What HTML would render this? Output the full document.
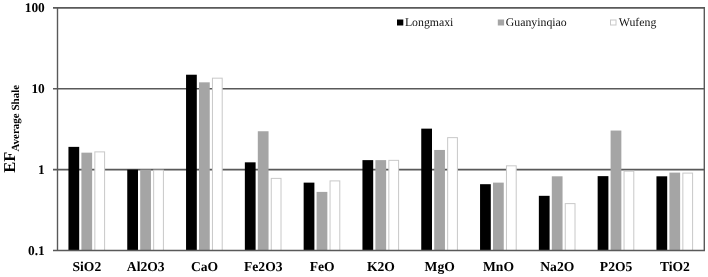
<!DOCTYPE html><html><head><meta charset="utf-8"><style>html,body{margin:0;padding:0;background:#fff;width:708px;height:277px;overflow:hidden}text{font-family:"Liberation Serif",serif}svg{display:block;text-rendering:geometricPrecision;filter:grayscale(1)}</style></head><body><svg width="708" height="277" viewBox="0 0 708 277">
<rect width="708" height="277" fill="#fff"/>
<line x1="53" y1="7.86" x2="705.00" y2="7.86" stroke="#595959" stroke-width="1.6"/>
<line x1="53" y1="88.73" x2="705.00" y2="88.73" stroke="#595959" stroke-width="1.6"/>
<line x1="53" y1="169.60" x2="705.00" y2="169.60" stroke="#595959" stroke-width="1.6"/>
<rect x="68.45" y="146.87" width="10.75" height="103.60" fill="#000"/>
<rect x="81.40" y="152.66" width="10.75" height="97.81" fill="#a5a5a5"/>
<rect x="94.85" y="151.88" width="9.75" height="98.59" fill="#fff" stroke="#c8c8c8" stroke-width="1"/>
<rect x="127.25" y="169.60" width="10.75" height="80.87" fill="#000"/>
<rect x="140.20" y="169.60" width="10.75" height="80.87" fill="#a5a5a5"/>
<rect x="153.65" y="170.10" width="9.75" height="80.37" fill="#fff" stroke="#c8c8c8" stroke-width="1"/>
<rect x="186.05" y="74.72" width="10.75" height="175.75" fill="#000"/>
<rect x="199.00" y="82.33" width="10.75" height="168.14" fill="#a5a5a5"/>
<rect x="212.45" y="78.17" width="9.75" height="172.30" fill="#fff" stroke="#c8c8c8" stroke-width="1"/>
<rect x="244.85" y="162.33" width="10.75" height="88.14" fill="#000"/>
<rect x="257.80" y="131.25" width="10.75" height="119.22" fill="#a5a5a5"/>
<rect x="271.25" y="178.38" width="9.75" height="72.09" fill="#fff" stroke="#c8c8c8" stroke-width="1"/>
<rect x="303.65" y="182.63" width="10.75" height="67.84" fill="#000"/>
<rect x="316.60" y="191.90" width="10.75" height="58.57" fill="#a5a5a5"/>
<rect x="330.05" y="180.91" width="9.75" height="69.56" fill="#fff" stroke="#c8c8c8" stroke-width="1"/>
<rect x="362.45" y="160.12" width="10.75" height="90.35" fill="#000"/>
<rect x="375.40" y="160.12" width="10.75" height="90.35" fill="#a5a5a5"/>
<rect x="388.85" y="160.35" width="9.75" height="90.12" fill="#fff" stroke="#c8c8c8" stroke-width="1"/>
<rect x="421.25" y="128.64" width="10.75" height="121.83" fill="#000"/>
<rect x="434.20" y="149.95" width="10.75" height="100.52" fill="#a5a5a5"/>
<rect x="447.65" y="137.64" width="9.75" height="112.83" fill="#fff" stroke="#c8c8c8" stroke-width="1"/>
<rect x="480.05" y="184.19" width="10.75" height="66.28" fill="#000"/>
<rect x="493.00" y="182.63" width="10.75" height="67.84" fill="#a5a5a5"/>
<rect x="506.45" y="165.81" width="9.75" height="84.66" fill="#fff" stroke="#c8c8c8" stroke-width="1"/>
<rect x="538.85" y="195.82" width="10.75" height="54.65" fill="#000"/>
<rect x="551.80" y="176.31" width="10.75" height="74.16" fill="#a5a5a5"/>
<rect x="565.25" y="203.62" width="9.75" height="46.85" fill="#fff" stroke="#c8c8c8" stroke-width="1"/>
<rect x="597.65" y="176.14" width="10.75" height="74.33" fill="#000"/>
<rect x="610.60" y="130.55" width="10.75" height="119.92" fill="#a5a5a5"/>
<rect x="624.05" y="171.17" width="9.75" height="79.30" fill="#fff" stroke="#c8c8c8" stroke-width="1"/>
<rect x="656.45" y="176.31" width="10.75" height="74.16" fill="#000"/>
<rect x="669.40" y="172.60" width="10.75" height="77.87" fill="#a5a5a5"/>
<rect x="682.85" y="173.10" width="9.75" height="77.37" fill="#fff" stroke="#c8c8c8" stroke-width="1"/>
<line x1="57.5" y1="7.86" x2="57.5" y2="250.47" stroke="#595959" stroke-width="1.4"/>
<line x1="704.3" y1="7.86" x2="704.3" y2="250.47" stroke="#595959" stroke-width="1.4"/>
<line x1="53" y1="250.47" x2="705.00" y2="250.47" stroke="#595959" stroke-width="1.4"/>
<text x="44.8" y="12.26" text-anchor="end" font-weight="bold" font-size="13.4">100</text>
<text x="44.8" y="93.13" text-anchor="end" font-weight="bold" font-size="13.4">10</text>
<text x="44.8" y="174.00" text-anchor="end" font-weight="bold" font-size="13.4">1</text>
<text x="44.8" y="254.87" text-anchor="end" font-weight="bold" font-size="13.4">0.1</text>
<text x="86.90" y="270.8" text-anchor="middle" font-weight="bold" font-size="13.6">SiO2</text>
<text x="145.70" y="270.8" text-anchor="middle" font-weight="bold" font-size="13.6">Al2O3</text>
<text x="204.50" y="270.8" text-anchor="middle" font-weight="bold" font-size="13.6">CaO</text>
<text x="263.30" y="270.8" text-anchor="middle" font-weight="bold" font-size="13.6">Fe2O3</text>
<text x="322.10" y="270.8" text-anchor="middle" font-weight="bold" font-size="13.6">FeO</text>
<text x="380.90" y="270.8" text-anchor="middle" font-weight="bold" font-size="13.6">K2O</text>
<text x="439.70" y="270.8" text-anchor="middle" font-weight="bold" font-size="13.6">MgO</text>
<text x="498.50" y="270.8" text-anchor="middle" font-weight="bold" font-size="13.6">MnO</text>
<text x="557.30" y="270.8" text-anchor="middle" font-weight="bold" font-size="13.6">Na2O</text>
<text x="616.10" y="270.8" text-anchor="middle" font-weight="bold" font-size="13.6">P2O5</text>
<text x="674.90" y="270.8" text-anchor="middle" font-weight="bold" font-size="13.6">TiO2</text>
<text transform="translate(15.2,172.8) rotate(-90)" font-weight="bold"><tspan font-size="16.6">EF</tspan><tspan font-size="11" dy="3.8">Average Shale</tspan></text>
<rect x="397" y="19.5" width="6.3" height="6" fill="#000"/>
<text x="404.90" y="25.9" font-size="11.8" fill="#111">Longmaxi</text>
<rect x="497.8" y="19.5" width="6.3" height="6" fill="#a5a5a5"/>
<text x="505.80" y="25.9" font-size="11.8" fill="#111">Guanyinqiao</text>
<rect x="610.5" y="20" width="5.5" height="5" fill="#fff" stroke="#c8c8c8" stroke-width="1"/>
<text x="618.80" y="25.9" font-size="11.8" fill="#111">Wufeng</text>
</svg></body></html>
